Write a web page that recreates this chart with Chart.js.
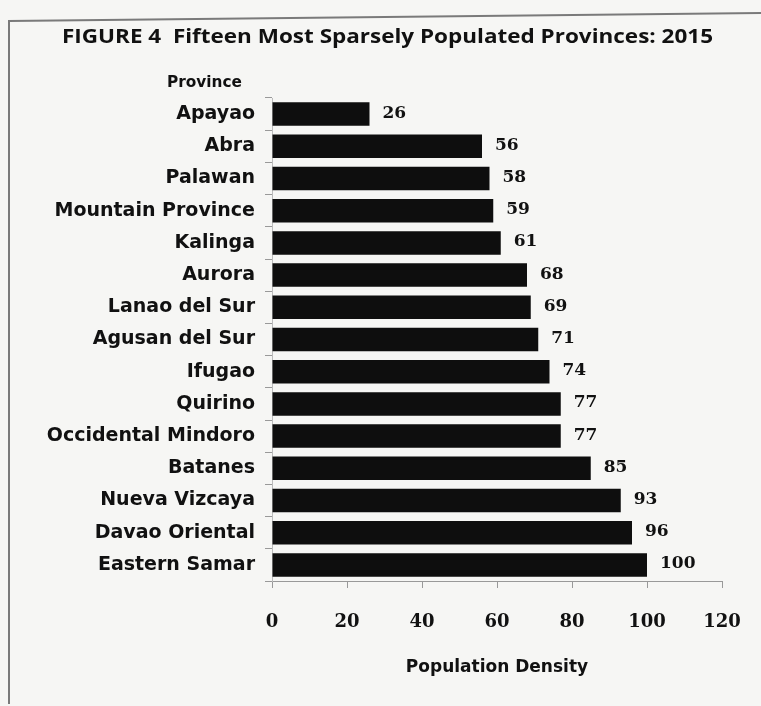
<!DOCTYPE html>
<html>
<head>
<meta charset="utf-8">
<script src="https://cdn.jsdelivr.net/npm/chart.js@4/dist/chart.umd.min.js"></script>
<style>
  html, body { margin: 0; padding: 0; background: #f6f6f4; }
  #wrap { width: 761px; height: 706px; position: relative; }
</style>
</head>
<body>
<div id="wrap"><canvas id="densityChart"></canvas></div>
<script>
const provinces = ['Apayao', 'Abra', 'Palawan', 'Mountain Province', 'Kalinga', 'Aurora',
    'Lanao del Sur', 'Agusan del Sur', 'Ifugao', 'Quirino', 'Occidental Mindoro',
    'Batanes', 'Nueva Vizcaya', 'Davao Oriental', 'Eastern Samar'];
const density = [26, 56, 58, 59, 61, 68, 69, 71, 74, 77, 77, 85, 93, 96, 100];
const xTicks = [0, 20, 40, 60, 80, 100, 120];

const chartTitle = 'FIGURE 4  Fifteen Most Sparsely Populated Provinces: 2015';
const yAxisTitle = 'Province';
const xAxisTitle = 'Population Density';

const serifFont = '"DejaVu Serif", "Liberation Serif", serif';
const sansFont = '"Open Sans", Lato, sans-serif';
const wideSans = '"DejaVu Sans", "Open Sans", sans-serif';

// draw text squeezed or stretched to a given width
function fitText(ctx, text, x, y, width) {
    const w = ctx.measureText(text).width;
    ctx.save();
    ctx.translate(x, y);
    ctx.scale(width / w, 1);
    ctx.fillText(text, 0, 0);
    ctx.restore();
}

// frame, heading and "Province" caption
const framePlugin = {
    id: 'frame',
    beforeDraw(chart) {
        const ctx = chart.ctx;
        ctx.save();
        ctx.fillStyle = '#f6f6f4';
        ctx.fillRect(0, 0, chart.width, chart.height);
        ctx.strokeStyle = '#7a7a7a';
        ctx.lineWidth = 2;
        ctx.beginPath();
        ctx.moveTo(9, 704);
        ctx.lineTo(9, 21);
        ctx.lineTo(761, 13);
        ctx.stroke();
        ctx.restore();
    },
    afterDraw(chart) {
        const ctx = chart.ctx;
        ctx.save();
        ctx.fillStyle = '#111';
        ctx.textBaseline = 'alphabetic';
        ctx.font = 'bold 20px ' + sansFont;
        fitText(ctx, chartTitle, 62, 43, 651);
        ctx.font = 'bold 16px ' + wideSans;
        fitText(ctx, yAxisTitle, 167, 87, 75);
        ctx.restore();
    }
};

// value printed to the right of each bar
const valueLabels = {
    id: 'valueLabels',
    afterDatasetsDraw(chart) {
        const ctx = chart.ctx;
        const meta = chart.getDatasetMeta(0);
        ctx.save();
        ctx.fillStyle = '#111';
        ctx.font = 'bold 17px ' + serifFont;
        ctx.textBaseline = 'middle';
        meta.data.forEach((bar, i) => {
            ctx.fillText(density[i], bar.x + 13, bar.y - 1);
        });
        ctx.restore();
    }
};

new Chart(document.getElementById('densityChart'), {
    type: 'bar',
    data: {
        labels: provinces,
        datasets: [{
            data: density,
            backgroundColor: '#0e0e0e',
            borderWidth: 0,
            barPercentage: 0.73,
            categoryPercentage: 1
        }]
    },
    options: {
        indexAxis: 'y',
        responsive: true,
        maintainAspectRatio: false,
        animation: false,
        layout: { padding: { top: 98, right: 39, bottom: 24, left: 0 } },
        plugins: {
            legend: { display: false },
            tooltip: { enabled: false }
        },
        scales: {
            x: {
                min: 0,
                max: 120,
                afterBuildTicks(scale) {
                    scale.ticks = xTicks.map(v => ({ value: v }));
                },
                // keep the end labels from pulling the plot inwards
                afterFit(scale) {
                    scale.paddingLeft = 8;
                    scale.paddingRight = 20;
                },
                grid: {
                    drawOnChartArea: false,
                    tickLength: 7,
                    color: '#999'
                },
                border: { color: '#999', width: 1 },
                ticks: {
                    color: '#111',
                    padding: 24,
                    font: { family: serifFont, size: 18, weight: 'bold' }
                },
                title: {
                    display: true,
                    text: xAxisTitle,
                    color: '#111',
                    padding: { top: 0 },
                    font: { family: wideSans, size: 17, weight: 'bold' }
                }
            },
            y: {
                afterFit(scale) { scale.width = 272; },
                grid: {
                    drawOnChartArea: false,
                    offset: true,
                    tickLength: 7,
                    color: '#999'
                },
                border: { color: '#bbb', width: 1 },
                ticks: {
                    color: '#111',
                    padding: 10,
                    font: { family: wideSans, size: 19, weight: 'bold' }
                }
            }
        }
    },
    plugins: [framePlugin, valueLabels]
});
</script>
</body>
</html>
